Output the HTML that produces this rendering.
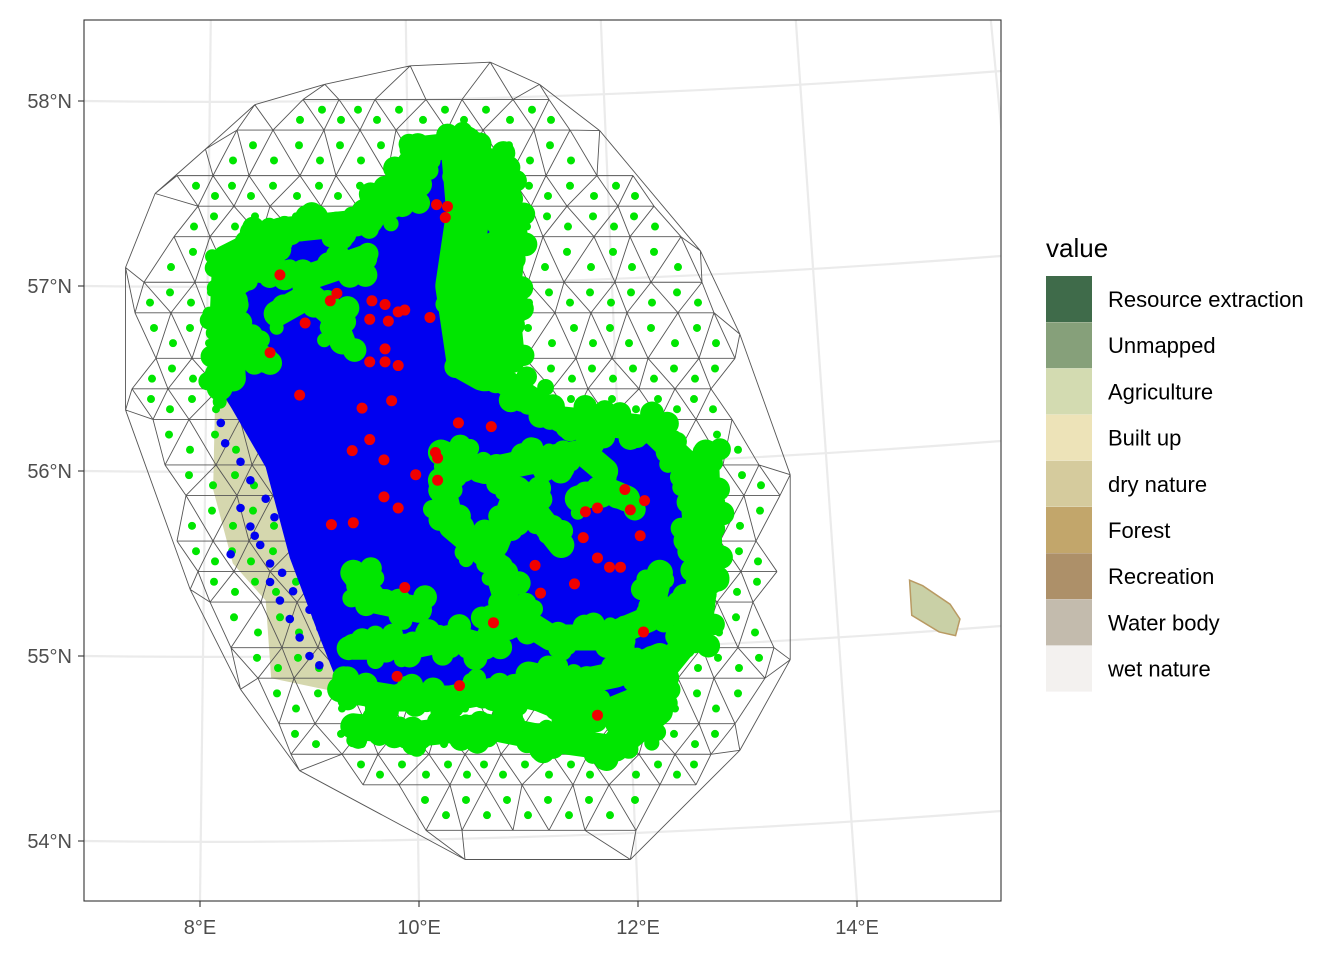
<!DOCTYPE html>
<html><head><meta charset="utf-8">
<style>
body{margin:0;background:#fff;}
svg{display:block;font-family:"Liberation Sans",sans-serif;}
</style></head>
<body>
<svg id="s" width="1344" height="960" viewBox="0 0 1344 960">
<defs><clipPath id="pc"><rect x="84" y="20" width="917" height="881"/></clipPath></defs>
<rect x="84" y="20" width="917" height="881" fill="#fff"/>
<g id="grat" clip-path="url(#pc)"></g>
<g id="land" clip-path="url(#pc)"></g>
<g id="mesh" clip-path="url(#pc)"></g>
<g id="blue" clip-path="url(#pc)"></g>
<g id="green" clip-path="url(#pc)"></g>
<g id="red" clip-path="url(#pc)"></g>
<rect x="84" y="20" width="917" height="881" fill="none" stroke="#333" stroke-width="1.1"/>
<g id="axes"></g>
<g id="legend"></g>
</svg>
<script>
const latTicks=[58,57,56,55,54];
const lonTicks=[8,10,12,14];
const hullLon=[7.32,7.59,8.05,8.50,9.14,9.92,10.65,11.10,11.65,12.57,12.93,13.39,13.39,12.93,11.93,10.42,8.91,8.37,7.91,7.32];
const hullLat=[57.10,57.50,57.74,57.98,58.09,58.19,58.21,58.09,57.84,57.19,56.74,55.98,54.98,54.49,53.90,53.90,54.38,54.82,55.36,56.33];
const innerLon=[8.18,8.23,8.73,9.55,10.01,10.47,10.74,10.83,10.56,10.74,11.29,12.11,12.48,12.57,12.39,12.02,11.56,11.10,10.74,10.28,9.82,9.28,9.10,8.82,8.60];
const innerLat=[56.45,57.15,57.30,57.35,57.74,57.77,57.58,57.31,56.93,56.50,56.28,56.23,56.02,55.42,55.04,54.77,54.66,54.77,54.82,54.77,54.77,54.82,55.09,55.53,56.02];
const redLon=[8.73,8.96,9.19,9.25,9.57,9.69,9.55,9.72,9.81,9.87,10.10,8.64,9.69,9.55,9.69,9.81,8.91,9.48,9.75,10.16,10.26,10.24,10.36,10.66,9.39,9.55,9.68,10.15,10.17,10.17,9.68,9.81,9.97,9.20,9.40,9.87,10.68,9.80,10.37,11.06,11.11,11.42,11.52,11.63,11.88,12.06,11.93,11.50,11.63,11.74,11.84,12.02,12.05,11.63];
const redLat=[57.06,56.80,56.92,56.96,56.92,56.90,56.82,56.81,56.86,56.87,56.83,56.64,56.66,56.59,56.59,56.57,56.41,56.34,56.38,57.44,57.43,57.37,56.26,56.24,56.11,56.17,56.06,56.10,56.07,55.95,55.86,55.80,55.98,55.71,55.72,55.37,55.18,54.89,54.84,55.49,55.34,55.39,55.78,55.80,55.90,55.84,55.79,55.64,55.53,55.48,55.48,55.65,55.13,54.68];
const blueCoastLon=[8.19,8.23,8.37,8.46,8.37,8.46,8.55,8.64,8.64,8.73,8.82,8.91,9.00,9.09,9.18,9.27,8.28,8.50,8.60,8.60,8.68,8.75,8.85,9.0,9.1];
const blueCoastLat=[56.26,56.15,56.05,55.95,55.80,55.70,55.60,55.50,55.40,55.30,55.20,55.10,55.00,54.95,55.05,55.20,55.55,55.65,56.10,55.85,55.75,55.45,55.35,55.25,55.15];
const legendLabels=["Resource extraction","Unmapped","Agriculture","Built up","dry nature","Forest","Recreation","Water body","wet nature"];
const legendColors=["#3f6b4a","#86a07a","#d3dbb1","#ede3b8","#d5cb9d","#c2a66b","#ad9069","#c3bbad","#f3f1ef"];

const NS="http://www.w3.org/2000/svg";
function X(lon){return 200+(lon-8)*109.5;}
function Y(lat){return 101+(58-lat)*185;}
function mk(tag,attrs,parent){const e=document.createElementNS(NS,tag);for(const k in attrs)e.setAttribute(k,attrs[k]);parent.appendChild(e);return e;}
const G=id=>document.getElementById(id);

const grat=G('grat');
latTicks.concat([53.5,58.5]).forEach(l=>{const yl=Y(l);
 const p=mk('path',{d:`M84 ${yl} Q540 ${yl+6} 1001 ${yl-30}`,fill:'none',stroke:'#ebebeb','stroke-width':2.2},grat);
 });
lonTicks.concat([6,16]).forEach(l=>{const xb=X(l);const xt=xb-(l-8.9)*12;
 const p=mk('path',{d:`M${xt} 20 L${xb} 901`,fill:'none',stroke:'#ebebeb','stroke-width':2.2},grat);
 });

const land=G('land');
const lp=mk('path',{d:`M${X(8.14)} ${Y(56.45)} L${X(8.6)} ${Y(56.35)} L${X(8.9)} ${Y(55.6)} L${X(9.4)} ${Y(54.9)} L${X(9.3)} ${Y(54.8)} L${X(8.65)} ${Y(54.88)} L${X(8.6)} ${Y(55.3)} L${X(8.3)} ${Y(55.5)} L${X(8.12)} ${Y(55.9)} Z`,fill:'#d5d7ae'},land);

const bp=mk('path',{d:`M${X(14.48)} ${Y(55.41)} L${X(14.6)} ${Y(55.38)} L${X(14.85)} ${Y(55.28)} L${X(14.94)} ${Y(55.2)} L${X(14.9)} ${Y(55.11)} L${X(14.75)} ${Y(55.13)} L${X(14.5)} ${Y(55.22)} Z`,fill:'#c9d0a6',stroke:'#b99a63','stroke-width':1.5},land);


function pip(px,py,xs,ys){let c=false;for(let i=0,j=xs.length-1;i<xs.length;j=i++){if(((ys[i]>py)!=(ys[j]>py))&&(px<(xs[j]-xs[i])*(py-ys[i])/(ys[j]-ys[i])+xs[i]))c=!c;}return c;}
const hx=hullLon.map(X),hy=hullLat.map(Y),ix=innerLon.map(X),iy=innerLat.map(Y);
function poly(lons,lats){return lons.map((l,i)=>(i?'L':'M')+X(l).toFixed(1)+' '+Y(lats[i]).toFixed(1)).join(' ')+' Z';}

const mesh=G('mesh');
const sp=42,rows={};const nodes=[];
for(let r=0;r<30;r++){for(let c=0;c<25;c++){const px=108+c*sp+(r%2)*sp/2+((r*7+c*3)%5-2)*3,py=60+r*sp*0.87+((r*3+c*5)%5-2)*3;
 if(pip(px,py,hx,hy)){nodes.push([px,py,r,c]);rows[r+','+c]=[px,py];}}}
let md='';
hx.forEach((x,i)=>{const j=(i+1)%hx.length;md+=`M${x} ${hy[i]}L${hx[j]} ${hy[j]}`;
 const ds=nodes.map(n=>[Math.hypot(n[0]-x,n[1]-hy[i]),n]).sort((a,b)=>a[0]-b[0]);
 ds.slice(0,2).forEach(d=>{md+=`M${x} ${hy[i]}L${d[1][0]} ${d[1][1]}`;});});
const tris=[];
nodes.forEach(([px,py,r,c])=>{const off=r%2;
 const nb=[[r,c+1],[r+1,c-1+off],[r+1,c+off]];
 nb.forEach(k=>{const q=rows[k[0]+','+k[1]];if(q)md+=`M${px} ${py}L${q[0]} ${q[1]}`;});
 const a=rows[r+','+(c+1)],b=rows[(r+1)+','+(c+off)],d=rows[(r+1)+','+(c-1+off)];
 if(a&&b)tris.push([(px+a[0]+b[0])/3,(py+a[1]+b[1])/3]);
 if(b&&d)tris.push([(px+b[0]+d[0])/3,(py+b[1]+d[1])/3]);
});
const mp=mk('path',{d:md,fill:'none',stroke:'#555','stroke-width':0.9},mesh);

const gr=G('green');
tris.forEach(([x,y])=>{const e=mk('circle',{cx:x,cy:y,r:4,fill:'#00e600'},mesh);
 });

const bl=G('blue');
const bpoly=mk('path',{d:poly(innerLon,innerLat),fill:'#0000f0'},bl);


const coast=[];for(let i=0;i<=21;i++)coast.push([innerLon[i],innerLat[i]]);
const branches=[coast,
 [[10.40,57.75],[10.45,57.4],[10.35,57.0],[10.45,56.6],[10.6,56.55]],
 [[10.2,56.1],[10.6,56.0],[11.0,56.05],[11.5,56.1],[11.7,56.0]],
 [[10.2,55.95],[10.3,55.7],[10.7,55.5],[10.8,55.3],[10.6,55.05],[10.3,55.1],[9.9,55.05],[9.4,55.05]],
 [[10.7,55.6],[10.9,55.9],[11.1,55.75],[11.3,55.6]],
 [[10.8,55.25],[11.2,55.1],[11.7,55.1],[12.1,55.2],[12.2,55.45]],
 [[8.4,57.1],[9.0,57.05],[9.5,57.15]],
 [[8.7,56.85],[9.0,56.95],[9.2,56.85],[9.3,56.7]],
 [[8.3,56.7],[8.6,56.6]],
 [[8.25,57.0],[8.3,56.5]],
 [[11.45,55.85],[11.7,55.9],[11.9,55.85]],
 [[9.4,55.45],[9.6,55.3],[10.0,55.25]],
 [[11.0,54.9],[11.4,54.85],[11.8,54.9],[12.2,55.0]],
 [[9.4,54.62],[10.0,54.58],[10.6,54.62],[11.2,54.55],[11.8,54.5],[12.2,54.7]],
 [[12.62,56.1],[12.65,55.6],[12.55,55.1]],
 [[10.75,57.55],[10.85,57.2],[10.8,56.9],[10.85,56.6]],
 [[9.5,57.4],[10.0,57.55]]
];
branches.forEach((b,bi)=>{const d=b.map((p,i)=>(i?'L':'M')+X(p[0])+' '+Y(p[1])).join(' ');
 const e=mk('path',{d:d,fill:'none',stroke:'#00e600','stroke-width':bi==1?44:26,'stroke-linecap':'round','stroke-linejoin':'round'},gr);
 
 const L=e.getTotalLength();
 for(let s=0,k=0;s<L;s+=6,k++){const p=e.getPointAtLength(s);
  const ox=Math.sin(k*1.7)*14,oy=Math.cos(k*2.3)*14;
  const c=mk('circle',{cx:p.x+ox,cy:p.y+oy,r:7+Math.abs(Math.sin(k*0.9))*5,fill:'#00e600'},gr);
  }
});

blueCoastLon.forEach((l,i)=>{const e=mk('circle',{cx:X(l),cy:Y(blueCoastLat[i]),r:4.3,fill:'#0000f0'},bl);
 });

const rd=G('red');
redLon.forEach((l,i)=>{const e=mk('circle',{cx:X(l),cy:Y(redLat[i]),r:5.5,fill:'#f00000'},rd);
 });

const ax=G('axes');
latTicks.forEach(l=>{const y=Y(l);
 mk('line',{x1:78,x2:84,y1:y,y2:y,stroke:'#333','stroke-width':1.1},ax);
 const t=mk('text',{x:72,y:y+7,'text-anchor':'end','font-size':20,fill:'#4d4d4d'},ax);t.textContent=l+'°N';
 });
lonTicks.forEach(l=>{const x=X(l);
 mk('line',{x1:x,x2:x,y1:901,y2:907,stroke:'#333','stroke-width':1.1},ax);
 const t=mk('text',{x:x,y:934,'text-anchor':'middle','font-size':20,fill:'#4d4d4d'},ax);t.textContent=l+'°E';
 });

const lg=G('legend');
const lt=mk('text',{x:1046,y:257,'font-size':26,fill:'#000'},lg);lt.textContent='value';

legendLabels.forEach((lab,i)=>{const y=276+i*46.2;
 const r=mk('rect',{x:1046,y:y,width:46,height:46,fill:legendColors[i]},lg);
 
 const t=mk('text',{x:1108,y:y+31,'font-size':22,fill:'#000'},lg);t.textContent=lab;
 });
</script>
</body></html>
